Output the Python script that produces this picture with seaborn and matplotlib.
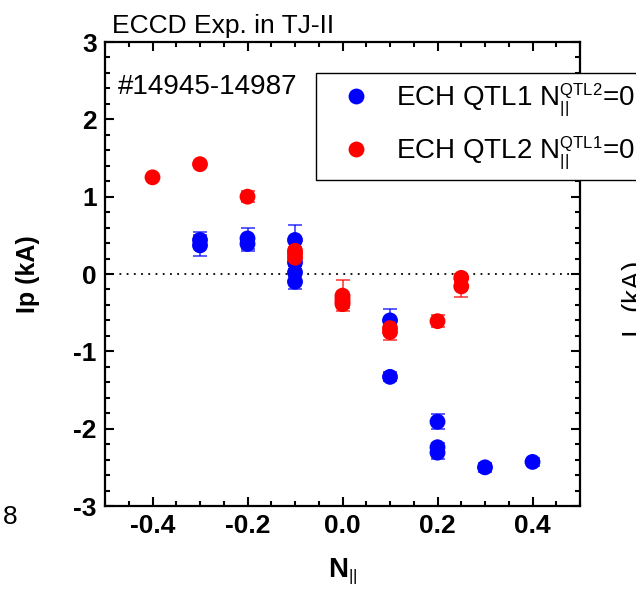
import matplotlib
matplotlib.use("Agg")
import matplotlib.pyplot as plt
import seaborn as sns
import pandas as pd
from matplotlib.ticker import MultipleLocator

try:
    import matplotlib._mathtext as _mt
    _mt.SHRINK_FACTOR = 0.6
except Exception:
    pass

# ---- data ----
blue_x = [-0.3, -0.3, -0.2, -0.2, -0.1, -0.1, -0.1, -0.1, 0.1, 0.1, 0.2, 0.2, 0.2, 0.3, 0.4]
blue_y = [0.44, 0.37, 0.46, 0.39, 0.44, 0.15, 0.02, -0.10, -0.60, -1.33, -1.91, -2.24, -2.31, -2.50, -2.43]
blue_err = [0.10, 0.14, 0.14, 0.09, 0.20, 0.05, 0.05, 0.10, 0.15, 0.06, 0.10, 0.06, 0.08, 0.06, 0.05]

red_x = [-0.4, -0.3, -0.2, -0.1, -0.1, -0.1, 0.0, 0.0, 0.0, 0.0, 0.1, 0.1, 0.2, 0.25, 0.25]
red_y = [1.25, 1.42, 1.00, 0.30, 0.26, 0.21, -0.28, -0.32, -0.36, -0.39, -0.70, -0.75, -0.61, -0.05, -0.16]
red_err = [0.02, 0.02, 0.07, 0.05, 0.05, 0.08, 0.20, 0.05, 0.05, 0.05, 0.08, 0.10, 0.08, 0.05, 0.14]

label_blue = r"ECH QTL1 N$_{\mathrm{||}}^{\mathrm{QTL2}}$=0"
label_red = r"ECH QTL2 N$_{\mathrm{||}}^{\mathrm{QTL1}}$=0"

xticks = [-0.4, -0.2, 0.0, 0.2, 0.4]
yticks = [-3, -2, -1, 0, 1, 2, 3]

df = pd.concat([
    pd.DataFrame({"N": blue_x, "Ip": blue_y, "err": blue_err, "series": label_blue}),
    pd.DataFrame({"N": red_x, "Ip": red_y, "err": red_err, "series": label_red}),
], ignore_index=True)

# ---- style ----
sns.set_style("ticks")
plt.rcParams["font.family"] = ["Liberation Sans", "DejaVu Sans"]
plt.rcParams["mathtext.fontset"] = "custom"
plt.rcParams["mathtext.rm"] = "Liberation Sans"
plt.rcParams["mathtext.it"] = "Liberation Sans:italic"
plt.rcParams["mathtext.bf"] = "Liberation Sans:bold"
for k in ["text.color", "axes.labelcolor", "xtick.color", "ytick.color", "axes.edgecolor"]:
    plt.rcParams[k] = "black"

fig = plt.figure(figsize=(6.36, 5.92), dpi=100)
ax = fig.add_axes([105 / 636, 1 - 506 / 592, 475 / 636, 464 / 592])

colors = {label_blue: "#0000ff", label_red: "#ff0000"}

for name, sub in df.groupby("series", sort=False):
    ax.errorbar(sub["N"], sub["Ip"], yerr=sub["err"], fmt="none",
                ecolor=colors[name], alpha=0.75, elinewidth=1.2,
                capsize=5, capthick=1.2, zorder=2)

sns.scatterplot(data=df, x="N", y="Ip", hue="series", palette=colors,
                s=130, edgecolor="none", linewidth=0, ax=ax, zorder=3)

ax.axhline(0, color="black", linestyle=(0, (1, 3)), linewidth=1.3, zorder=1)

ax.set_xlim(-0.5, 0.5)
ax.set_ylim(-3, 3)
ax.set_xticks(xticks)
ax.set_yticks(yticks)
ax.xaxis.set_minor_locator(MultipleLocator(0.05))
ax.yaxis.set_minor_locator(MultipleLocator(0.2))
ax.set_xticklabels([f"{v:.1f}" for v in xticks], fontsize=19, fontweight="bold")
ax.set_yticklabels([f"{v:d}" for v in yticks], fontsize=19, fontweight="bold")
ax.tick_params(which="both", direction="in", top=True, right=True, width=1.5)
ax.tick_params(which="major", length=6.5, pad=6)
ax.tick_params(which="minor", length=3.5)
for s in ax.spines.values():
    s.set_linewidth(1.6)
    s.set_visible(True)

ax.set_xlabel(r"$\mathbf{N}_{\mathrm{||}}$", fontsize=20)
ax.set_ylabel("Ip (kA)", fontsize=18, fontweight="bold")
ax.xaxis.set_label_coords(0.5, -0.108)
ax.yaxis.set_label_coords(-0.137, 0.5)

# texts
fig.text(112 / 636, 1 - 33 / 592, "ECCD Exp. in TJ-II", fontsize=19, ha="left", va="baseline")
ax.text(0.028, 0.902, "#14945-14987", transform=ax.transAxes, fontsize=20, ha="left", va="center")

# neighbouring-panel fragments visible in the crop
fig.text(3 / 636, 1 - 517 / 592, "8", fontsize=19, ha="left", va="center")
fig.text(620 / 636, 1 - 300 / 592, r"I$_\mathrm{p}$ (kA)", fontsize=20, rotation=90, ha="left", va="center")

handles, labels = ax.get_legend_handles_labels()
leg = ax.legend(handles, labels, loc="upper left", bbox_to_anchor=(0.444, 0.933),
                fontsize=20, frameon=True, fancybox=False, framealpha=1,
                edgecolor="black", borderpad=0.3, labelspacing=0.56,
                handletextpad=0.3, borderaxespad=0, markerscale=1.0,
                handlelength=2.3)
leg.get_frame().set_linewidth(1.0)
leg.set_zorder(5)

fig.savefig("out.png", dpi=100)
